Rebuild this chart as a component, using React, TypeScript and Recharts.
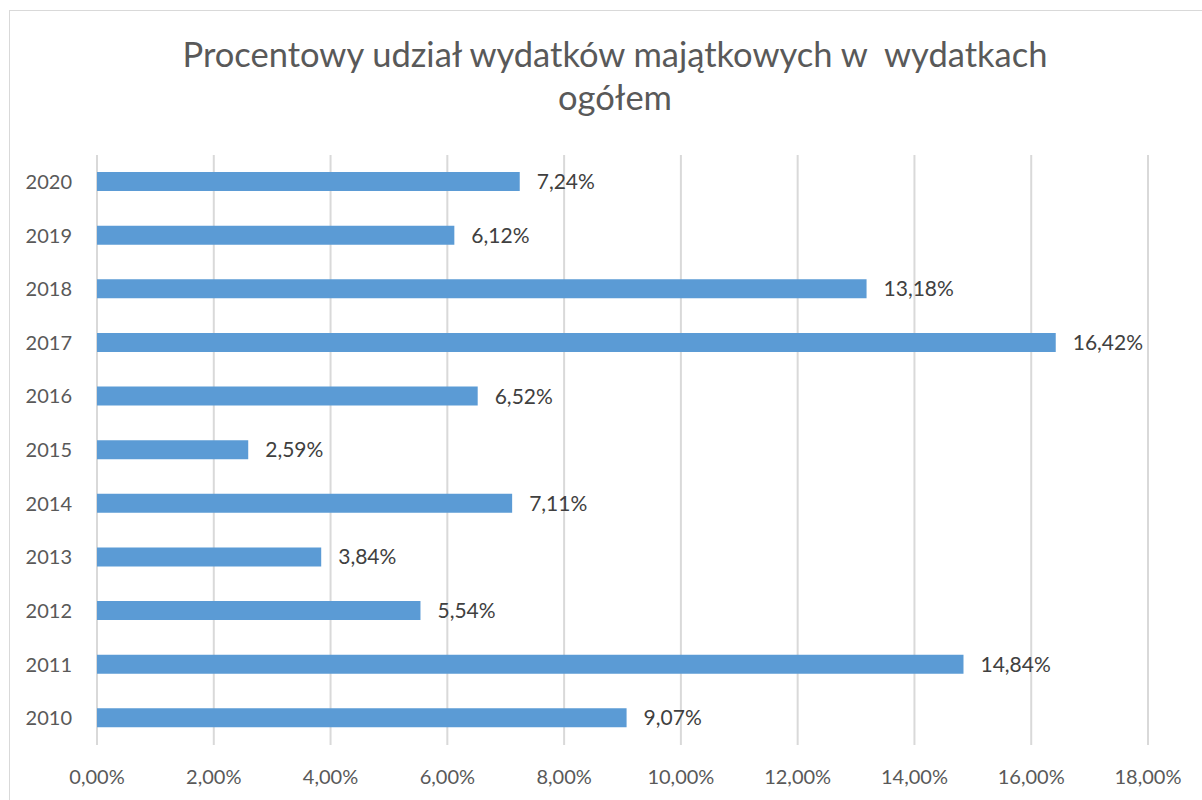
import React from 'react';
import { BarChart, Bar, XAxis, YAxis, CartesianGrid, LabelList } from 'recharts';

const years = ['2020', '2019', '2018', '2017', '2016', '2015', '2014', '2013', '2012', '2011', '2010'];
const shares = [7.24, 6.12, 13.18, 16.42, 6.52, 2.59, 7.11, 3.84, 5.54, 14.84, 9.07];
const xTicks = [0, 2, 4, 6, 8, 10, 12, 14, 16, 18];
const titleLines = ['Procentowy udział wydatków majątkowych w  wydatkach', 'ogółem'];

const data = years.map((y, i) => ({ year: y, value: shares[i] }));

const fmt = (v: number) => v.toFixed(2).replace('.', ',') + '%';

const FONT = 'Lato, "Open Sans", sans-serif';

export default function App() {
  return (
    <div style={{ position: 'absolute', left: 0, top: 0, width: 1202, height: 800, background: '#fff', overflow: 'hidden', fontFamily: FONT }}>
      <div style={{ position: 'absolute', left: 9, top: 10, width: 1220, height: 800, border: '1px solid #d9d9d9', boxSizing: 'border-box' }} />
      {titleLines.map((t, i) => (
        <div key={i} style={{ position: 'absolute', left: 0, width: 1230, top: 32 + i * 43, textAlign: 'center', fontSize: 34.5, lineHeight: '43px', color: '#595959', whiteSpace: 'pre' }}>{t}</div>
      ))}
      <div style={{ position: 'absolute', left: 0, top: 0 }}>
        <BarChart width={1202} height={800} data={data} layout="vertical" margin={{ top: 155, bottom: 0, left: 17, right: 54 }}>
          <CartesianGrid horizontal={false} vertical={true} stroke="#d9d9d9" strokeWidth={2} />
          <XAxis type="number" domain={[0, 18]} ticks={xTicks} tickFormatter={fmt} axisLine={false} tickLine={false} tickSize={0} tickMargin={25} height={55} interval={0}
            tick={{ fill: '#595959', fontSize: 20, fontFamily: FONT }} />
          <YAxis type="category" dataKey="year" width={80} axisLine={false} tickLine={false} tickSize={0} tickMargin={25}
            tick={{ fill: '#595959', fontSize: 20, fontFamily: FONT }} />
          <Bar dataKey="value" fill="#5b9bd5" barSize={19} isAnimationActive={false}>
            <LabelList dataKey="value" position="right" offset={17} formatter={(v: number) => fmt(v)} style={{ fill: '#404040', fontSize: 21, fontFamily: FONT }} />
          </Bar>
        </BarChart>
      </div>
    </div>
  );
}
